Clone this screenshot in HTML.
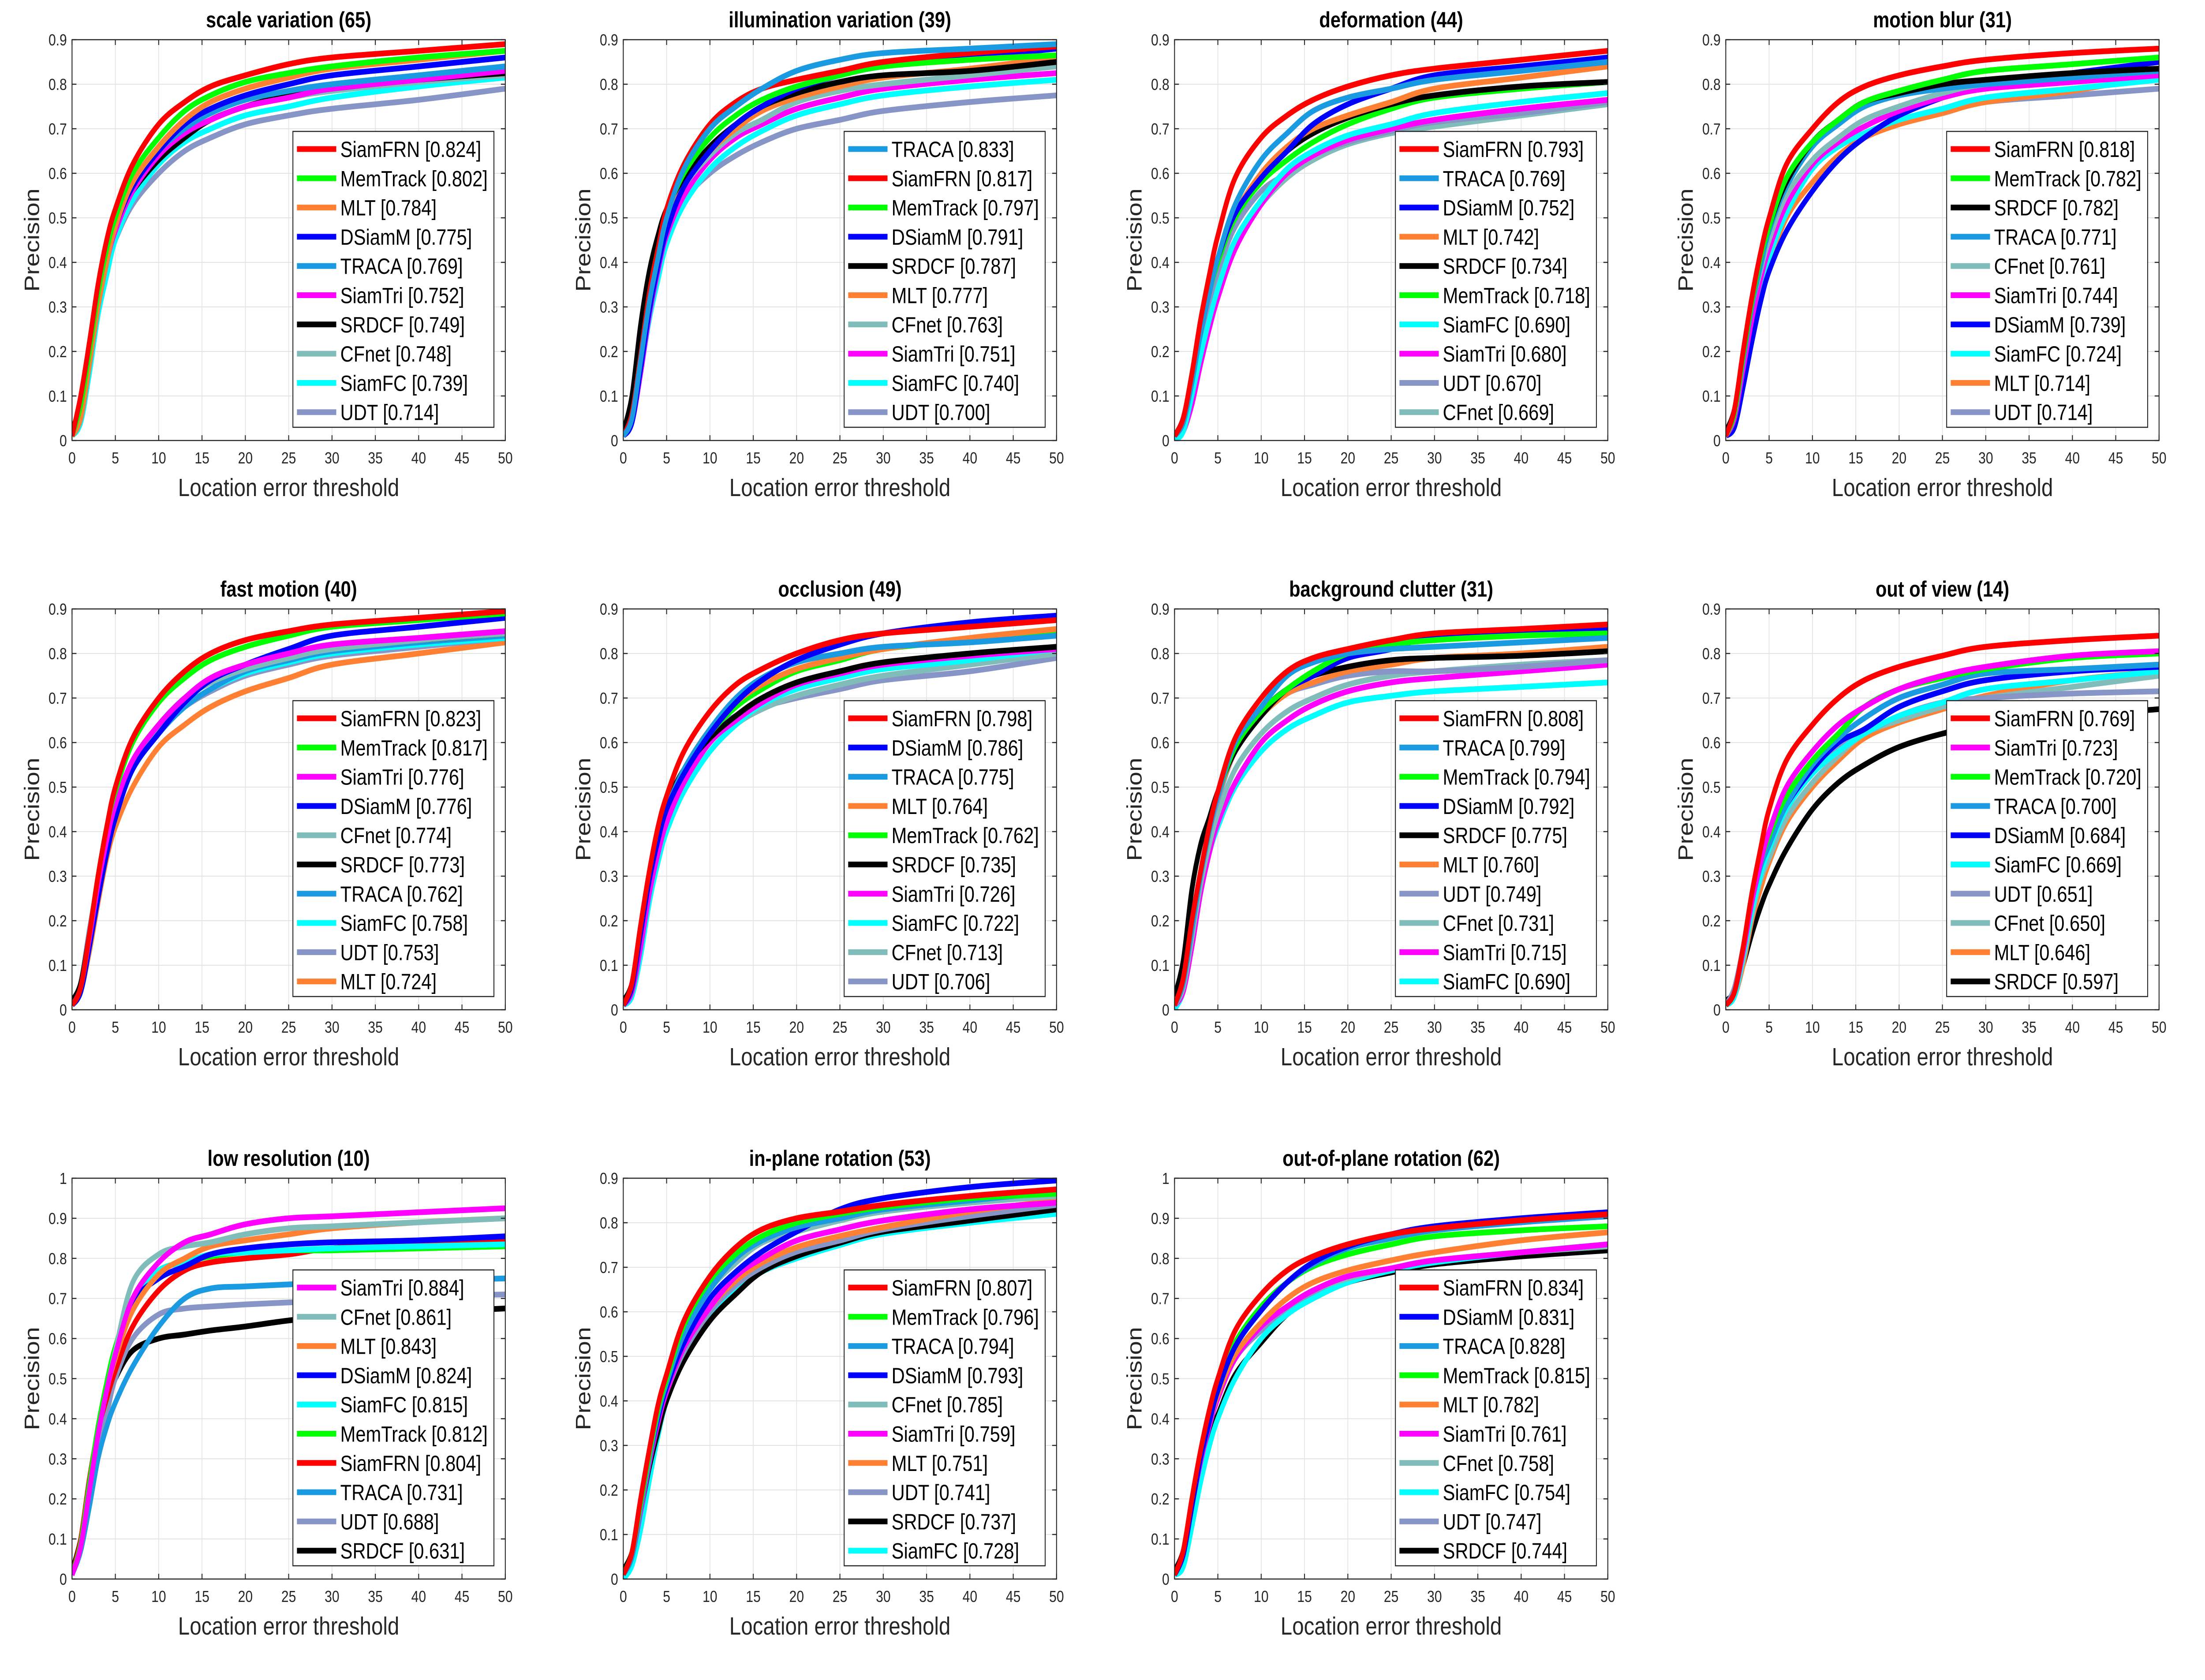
<!DOCTYPE html>
<html><head><meta charset="utf-8"><style>
html,body{margin:0;padding:0;background:#fff;overflow:hidden;width:100%;height:100%;}
svg{display:block;width:100vw;height:100vh;font-family:"Liberation Sans",Arial,sans-serif;}
</style></head><body>
<svg id="fig" viewBox="0 0 6000 3810" preserveAspectRatio="none" xmlns="http://www.w3.org/2000/svg"></svg>
<script>
// shared thresholds (x values of sampled points)
const thresholds = [0,1,2,3,4,5,7,10,13,16,20,25,30,40,50];
const xTicks = [0,5,10,15,20,25,30,35,40,45,50];

const colors = {SiamFRN:"#ff0000",MemTrack:"#00ff00",MLT:"#ff8033",DSiamM:"#0000ff",TRACA:"#1a9ae0",SiamTri:"#ff00ff",SRDCF:"#000000",CFnet:"#80bcba",SiamFC:"#00ffff",UDT:"#8794c6"};

// ---- panel 1: scale variation
const p1Title = "scale variation (65)";
const p1Names = ["SiamFRN","MemTrack","MLT","DSiamM","TRACA","SiamTri","SRDCF","CFnet","SiamFC","UDT"];
const p1Scores = ["0.824","0.802","0.784","0.775","0.769","0.752","0.749","0.748","0.739","0.714"];
const p1Values = [
[.01,.1,.22,.35,.45,.52,.62,.71,.76,.795,.82,.845,.86,.875,.89],
[.01,.08,.2,.33,.43,.5,.6,.68,.74,.775,.805,.825,.84,.86,.875],
[.01,.05,.17,.3,.4,.48,.58,.66,.72,.76,.79,.815,.835,.855,.875],
[.01,.05,.17,.3,.4,.48,.57,.65,.71,.745,.775,.8,.82,.84,.86],
[.01,.05,.17,.3,.4,.48,.57,.65,.7,.735,.765,.785,.8,.82,.84],
[.01,.05,.17,.3,.4,.47,.56,.64,.69,.72,.75,.77,.79,.81,.83],
[.02,.09,.22,.34,.43,.49,.56,.63,.68,.72,.75,.775,.79,.81,.825],
[.01,.05,.17,.3,.4,.47,.56,.64,.69,.72,.75,.77,.785,.805,.82],
[.01,.04,.15,.28,.37,.45,.54,.62,.67,.70,.73,.75,.77,.795,.815],
[.01,.06,.18,.3,.39,.45,.53,.6,.65,.68,.71,.73,.745,.765,.79]];

// ---- panel 2: illumination variation
const p2Title = "illumination variation (39)";
const p2Names = ["TRACA","SiamFRN","MemTrack","DSiamM","SRDCF","MLT","CFnet","SiamTri","SiamFC","UDT"];
const p2Scores = ["0.833","0.817","0.797","0.791","0.787","0.777","0.763","0.751","0.740","0.700"];
const p2Values = [
[.01,.05,.18,.31,.41,.5,.61,.7,.75,.79,.83,.855,.87,.88,.89],
[.01,.06,.19,.33,.43,.52,.62,.71,.76,.79,.81,.83,.85,.87,.885],
[.01,.06,.19,.33,.43,.51,.6,.68,.73,.765,.795,.82,.84,.855,.865],
[.01,.04,.16,.29,.39,.47,.57,.65,.71,.75,.79,.82,.84,.86,.88],
[.02,.1,.26,.38,.46,.52,.59,.66,.71,.75,.78,.805,.82,.83,.85],
[.01,.05,.17,.3,.4,.48,.58,.65,.7,.74,.77,.795,.815,.835,.86],
[.01,.05,.17,.3,.4,.48,.57,.64,.69,.72,.76,.785,.8,.82,.84],
[.01,.04,.15,.28,.38,.46,.55,.63,.68,.71,.745,.77,.79,.81,.825],
[.01,.04,.15,.27,.36,.44,.53,.61,.66,.695,.73,.755,.775,.795,.81],
[.01,.06,.18,.3,.39,.46,.54,.6,.64,.67,.7,.72,.74,.76,.775]];

// ---- panel 3: deformation
const p3Title = "deformation (44)";
const p3Names = ["SiamFRN","TRACA","DSiamM","MLT","SRDCF","MemTrack","SiamFC","SiamTri","UDT","CFnet"];
const p3Scores = ["0.793","0.769","0.752","0.742","0.734","0.718","0.690","0.680","0.670","0.669"];
const p3Values = [
[.01,.05,.15,.27,.37,.46,.59,.68,.73,.765,.795,.82,.835,.855,.875],
[.01,.04,.13,.24,.33,.41,.53,.63,.69,.74,.77,.79,.81,.83,.85],
[.01,.04,.13,.24,.33,.41,.51,.59,.65,.71,.755,.79,.82,.84,.86],
[.01,.04,.13,.24,.33,.41,.51,.6,.66,.7,.73,.76,.79,.815,.84],
[.01,.05,.14,.25,.34,.41,.51,.59,.65,.69,.725,.755,.775,.795,.805],
[.01,.04,.13,.24,.33,.4,.5,.58,.63,.67,.71,.745,.77,.79,.805],
[.0,.02,.1,.19,.27,.34,.45,.54,.61,.65,.685,.71,.735,.76,.78],
[.0,.02,.08,.17,.25,.32,.43,.53,.6,.64,.675,.7,.72,.745,.765],
[.01,.04,.12,.22,.31,.38,.48,.56,.6,.64,.67,.695,.715,.735,.76],
[.01,.03,.11,.2,.28,.35,.45,.53,.59,.63,.665,.69,.705,.73,.755]];

// ---- panel 4: motion blur
const p4Title = "motion blur (31)";
const p4Names = ["SiamFRN","MemTrack","SRDCF","TRACA","CFnet","SiamTri","DSiamM","SiamFC","MLT","UDT"];
const p4Scores = ["0.818","0.782","0.782","0.771","0.761","0.744","0.739","0.724","0.714","0.714"];
const p4Values = [
[.01,.07,.2,.32,.42,.5,.62,.7,.76,.795,.82,.84,.855,.87,.88],
[.01,.06,.19,.31,.41,.48,.59,.67,.72,.76,.785,.81,.83,.845,.86],
[.02,.07,.19,.31,.41,.48,.58,.67,.72,.76,.78,.8,.81,.825,.835],
[.01,.06,.18,.3,.39,.47,.57,.66,.71,.75,.775,.79,.8,.815,.83],
[.01,.06,.18,.3,.38,.45,.55,.63,.68,.72,.75,.78,.8,.815,.83],
[.01,.05,.16,.27,.36,.43,.53,.62,.67,.705,.74,.77,.79,.805,.82],
[.01,.03,.12,.22,.31,.38,.47,.56,.63,.68,.73,.77,.8,.825,.85],
[.01,.04,.14,.25,.34,.41,.51,.61,.66,.69,.72,.745,.77,.79,.81],
[.01,.04,.13,.23,.32,.39,.5,.58,.64,.68,.71,.735,.76,.785,.82],
[.01,.06,.18,.3,.38,.45,.54,.62,.66,.69,.715,.735,.76,.775,.79]];

// ---- panel 5: fast motion
const p5Title = "fast motion (40)";
const p5Names = ["SiamFRN","MemTrack","SiamTri","DSiamM","CFnet","SRDCF","TRACA","SiamFC","UDT","MLT"];
const p5Scores = ["0.823","0.817","0.776","0.776","0.774","0.773","0.762","0.758","0.753","0.724"];
const p5Values = [
[.01,.05,.17,.3,.41,.5,.61,.7,.76,.8,.83,.85,.865,.88,.895],
[.01,.05,.17,.3,.41,.49,.6,.69,.745,.785,.815,.84,.86,.875,.89],
[.01,.05,.16,.28,.38,.46,.56,.64,.7,.745,.775,.8,.82,.835,.85],
[.01,.04,.14,.25,.35,.43,.54,.62,.69,.74,.775,.81,.84,.86,.88],
[.01,.05,.16,.28,.38,.46,.56,.64,.7,.735,.765,.79,.81,.83,.845],
[.02,.06,.17,.29,.38,.46,.56,.64,.7,.735,.77,.795,.815,.83,.845],
[.01,.04,.14,.26,.36,.44,.54,.62,.68,.72,.76,.785,.805,.825,.84],
[.01,.04,.14,.26,.36,.44,.54,.62,.68,.72,.755,.78,.8,.82,.835],
[.01,.06,.18,.29,.38,.45,.55,.63,.68,.715,.75,.775,.795,.815,.835],
[.01,.04,.13,.24,.34,.41,.5,.59,.64,.68,.715,.745,.775,.8,.825]];

// ---- panel 6: occlusion
const p6Title = "occlusion (49)";
const p6Names = ["SiamFRN","DSiamM","TRACA","MLT","MemTrack","SRDCF","SiamTri","SiamFC","CFnet","UDT"];
const p6Scores = ["0.798","0.786","0.775","0.764","0.762","0.735","0.726","0.722","0.713","0.706"];
const p6Values = [
[.01,.06,.19,.31,.41,.48,.58,.67,.73,.765,.8,.83,.845,.86,.875],
[.01,.05,.17,.29,.38,.45,.53,.62,.69,.74,.785,.82,.845,.87,.885],
[.01,.05,.17,.29,.38,.45,.54,.63,.7,.745,.78,.8,.815,.825,.84],
[.01,.05,.17,.29,.38,.45,.54,.63,.69,.73,.765,.79,.81,.835,.855],
[.01,.05,.17,.29,.38,.45,.53,.62,.68,.72,.76,.785,.81,.83,.85],
[.02,.06,.18,.3,.39,.46,.54,.61,.66,.7,.735,.76,.78,.8,.815],
[.01,.04,.14,.26,.35,.42,.51,.6,.65,.69,.73,.755,.775,.795,.81],
[.01,.03,.12,.24,.33,.4,.49,.58,.64,.685,.72,.745,.765,.785,.81],
[.01,.04,.13,.25,.34,.41,.5,.58,.64,.675,.705,.73,.75,.775,.8],
[.01,.05,.16,.28,.37,.44,.53,.62,.66,.68,.7,.72,.74,.76,.79]];

// ---- panel 7: background clutter
const p7Title = "background clutter (31)";
const p7Names = ["SiamFRN","TRACA","MemTrack","DSiamM","SRDCF","MLT","UDT","CFnet","SiamTri","SiamFC"];
const p7Scores = ["0.808","0.799","0.794","0.792","0.775","0.760","0.749","0.731","0.715","0.690"];
const p7Values = [
[.01,.07,.2,.31,.41,.49,.61,.7,.76,.79,.81,.83,.845,.855,.865],
[.01,.06,.18,.3,.4,.48,.6,.68,.75,.78,.8,.81,.815,.825,.835],
[.01,.06,.18,.3,.4,.48,.59,.67,.72,.76,.8,.82,.83,.84,.845],
[.01,.06,.18,.3,.4,.48,.59,.67,.72,.75,.79,.81,.84,.85,.855],
[.03,.11,.27,.37,.43,.49,.58,.66,.72,.75,.77,.785,.79,.795,.805],
[.01,.06,.18,.3,.4,.48,.58,.66,.71,.735,.76,.775,.79,.8,.815],
[.01,.07,.2,.31,.4,.47,.58,.66,.71,.73,.75,.76,.76,.77,.785],
[.01,.05,.16,.28,.37,.44,.54,.62,.67,.7,.73,.75,.76,.775,.785],
[.01,.04,.14,.26,.35,.42,.51,.6,.65,.685,.715,.735,.745,.76,.775],
[.0,.04,.14,.26,.35,.41,.5,.58,.63,.66,.69,.705,.715,.725,.735]];

// ---- panel 8: out of view
const p8Title = "out of view (14)";
const p8Names = ["SiamFRN","SiamTri","MemTrack","TRACA","DSiamM","SiamFC","UDT","CFnet","MLT","SRDCF"];
const p8Scores = ["0.769","0.723","0.720","0.700","0.684","0.669","0.651","0.650","0.646","0.597"];
const p8Values = [
[.01,.04,.14,.26,.36,.45,.56,.64,.7,.74,.77,.795,.815,.83,.84],
[.01,.04,.13,.24,.33,.4,.5,.58,.64,.68,.72,.75,.77,.795,.805],
[.01,.04,.13,.24,.33,.39,.48,.56,.62,.68,.72,.745,.765,.79,.8],
[.01,.04,.13,.24,.32,.37,.46,.55,.61,.655,.7,.73,.755,.765,.775],
[.01,.04,.13,.24,.33,.38,.46,.54,.6,.63,.68,.715,.74,.76,.77],
[.01,.03,.12,.22,.3,.36,.45,.53,.58,.62,.66,.69,.72,.74,.76],
[.01,.05,.14,.24,.32,.37,.46,.54,.59,.62,.66,.69,.7,.71,.715],
[.01,.03,.11,.21,.29,.34,.43,.51,.57,.62,.65,.68,.7,.725,.75],
[.01,.03,.1,.2,.27,.33,.42,.5,.56,.61,.645,.675,.705,.74,.76],
[.02,.04,.1,.17,.23,.28,.36,.45,.51,.55,.59,.62,.64,.66,.675]];

// ---- panel 9: low resolution
const p9Title = "low resolution (10)";
const p9Names = ["SiamTri","CFnet","MLT","DSiamM","SiamFC","MemTrack","SiamFRN","TRACA","UDT","SRDCF"];
const p9Scores = ["0.884","0.861","0.843","0.824","0.815","0.812","0.804","0.731","0.688","0.631"];
const p9Values = [
[.01,.08,.22,.36,.47,.56,.7,.79,.84,.86,.885,.9,.905,.915,.925],
[.01,.08,.22,.36,.47,.57,.74,.81,.83,.84,.86,.875,.88,.89,.9],
[.01,.08,.22,.36,.47,.55,.67,.76,.8,.83,.845,.86,.875,.89,.9],
[.01,.08,.22,.36,.47,.56,.69,.75,.78,.81,.825,.835,.84,.845,.855],
[.01,.08,.22,.36,.47,.56,.7,.77,.79,.81,.815,.82,.825,.83,.835],
[.01,.09,.24,.38,.49,.58,.7,.77,.79,.805,.815,.82,.82,.825,.83],
[.01,.1,.25,.37,.45,.52,.63,.72,.77,.79,.8,.81,.825,.835,.845],
[.01,.07,.18,.3,.38,.44,.53,.63,.7,.725,.73,.735,.74,.745,.75],
[.01,.08,.2,.32,.41,.5,.6,.66,.675,.68,.685,.69,.695,.705,.71],
[.02,.1,.23,.35,.44,.5,.57,.6,.61,.62,.63,.645,.655,.665,.675]];

// ---- panel 10: in-plane rotation
const p10Title = "in-plane rotation (53)";
const p10Names = ["SiamFRN","MemTrack","TRACA","DSiamM","CFnet","SiamTri","MLT","UDT","SRDCF","SiamFC"];
const p10Scores = ["0.807","0.796","0.794","0.793","0.785","0.759","0.751","0.741","0.737","0.728"];
const p10Values = [
[.01,.06,.18,.29,.39,.46,.58,.68,.745,.785,.81,.825,.84,.86,.875],
[.01,.06,.17,.28,.38,.45,.57,.67,.73,.77,.8,.82,.835,.855,.865],
[.01,.05,.16,.27,.37,.44,.55,.65,.72,.76,.79,.81,.83,.85,.87],
[.01,.05,.16,.27,.36,.43,.53,.63,.69,.735,.78,.83,.855,.88,.895],
[.01,.05,.16,.27,.37,.44,.55,.65,.71,.755,.78,.805,.825,.845,.86],
[.01,.05,.15,.26,.35,.42,.52,.61,.68,.72,.76,.785,.805,.83,.845],
[.01,.05,.15,.26,.35,.42,.52,.61,.67,.71,.745,.77,.79,.825,.85],
[.01,.05,.15,.26,.35,.42,.51,.6,.66,.7,.735,.76,.785,.815,.84],
[.02,.06,.15,.25,.33,.4,.49,.58,.64,.69,.725,.755,.78,.805,.83],
[.0,.03,.11,.22,.32,.4,.5,.59,.65,.69,.72,.75,.775,.8,.82]];

// ---- panel 11: out-of-plane rotation
const p11Title = "out-of-plane rotation (62)";
const p11Names = ["SiamFRN","DSiamM","TRACA","MemTrack","MLT","SiamTri","CFnet","SiamFC","UDT","SRDCF"];
const p11Scores = ["0.834","0.831","0.828","0.815","0.782","0.761","0.758","0.754","0.747","0.744"];
const p11Values = [
[.01,.07,.2,.32,.42,.5,.62,.71,.77,.805,.835,.86,.875,.895,.91],
[.01,.06,.18,.3,.39,.47,.58,.67,.74,.79,.83,.86,.88,.9,.915],
[.01,.06,.18,.3,.39,.47,.58,.67,.74,.785,.825,.85,.87,.89,.905],
[.01,.06,.18,.3,.4,.48,.59,.68,.74,.78,.81,.835,.855,.87,.88],
[.01,.06,.18,.3,.39,.46,.56,.64,.7,.74,.77,.795,.815,.845,.865],
[.01,.06,.18,.29,.38,.45,.55,.63,.68,.72,.755,.775,.795,.815,.835],
[.01,.06,.18,.29,.38,.45,.55,.63,.68,.72,.75,.775,.795,.815,.83],
[.01,.03,.13,.24,.33,.4,.5,.6,.66,.7,.74,.77,.79,.815,.835],
[.01,.06,.18,.29,.38,.45,.55,.62,.67,.71,.745,.77,.79,.815,.83],
[.02,.07,.18,.28,.36,.41,.51,.59,.66,.7,.74,.765,.785,.805,.82]];

const panels = [
 {title:p1Title,names:p1Names,scores:p1Scores,values:p1Values,ymax:0.9,col:0,row:0},
 {title:p2Title,names:p2Names,scores:p2Scores,values:p2Values,ymax:0.9,col:1,row:0},
 {title:p3Title,names:p3Names,scores:p3Scores,values:p3Values,ymax:0.9,col:2,row:0},
 {title:p4Title,names:p4Names,scores:p4Scores,values:p4Values,ymax:0.9,col:3,row:0},
 {title:p5Title,names:p5Names,scores:p5Scores,values:p5Values,ymax:0.9,col:0,row:1},
 {title:p6Title,names:p6Names,scores:p6Scores,values:p6Values,ymax:0.9,col:1,row:1},
 {title:p7Title,names:p7Names,scores:p7Scores,values:p7Values,ymax:0.9,col:2,row:1},
 {title:p8Title,names:p8Names,scores:p8Scores,values:p8Values,ymax:0.9,col:3,row:1},
 {title:p9Title,names:p9Names,scores:p9Scores,values:p9Values,ymax:1.0,col:0,row:2},
 {title:p10Title,names:p10Names,scores:p10Scores,values:p10Values,ymax:0.9,col:1,row:2},
 {title:p11Title,names:p11Names,scores:p11Scores,values:p11Values,ymax:1.0,col:2,row:2}
];

const NS = "http://www.w3.org/2000/svg";
const svg = document.getElementById("fig");
function mk(tag, attrs, parent){
  const e = document.createElementNS(NS, tag);
  for (const k in attrs) e.setAttribute(k, attrs[k]);
  (parent||svg).appendChild(e);
  return e;
}
function smoothPath(pts){
  let d = "M" + pts[0][0].toFixed(1) + "," + pts[0][1].toFixed(1);
  for (let i=0;i<pts.length-1;i++){
    const p0 = pts[Math.max(0,i-1)], p1 = pts[i], p2 = pts[i+1], p3 = pts[Math.min(pts.length-1,i+2)];
    const c1x = p1[0]+(p2[0]-p0[0])/6, c1y = p1[1]+(p2[1]-p0[1])/6;
    const c2x = p2[0]-(p3[0]-p1[0])/6, c2y = p2[1]-(p3[1]-p1[1])/6;
    d += " C"+c1x.toFixed(1)+","+c1y.toFixed(1)+" "+c2x.toFixed(1)+","+c2y.toFixed(1)+" "+p2[0].toFixed(1)+","+p2[1].toFixed(1);
  }
  return d;
}

const W = 1179, H = 909;
panels.forEach((p, pi) => {
  const L = 196 + p.col*1500, T = 90 + p.row*1291, B = T + H, R = L + W;
  const xS = v => L + v/50*W;
  const yS = v => B - v/p.ymax*H;
  const g = mk("g", {});
  
  

  const yTicks = [];
  for (let k=0; k<=Math.round(p.ymax*10); k++) yTicks.push(k/10);

  xTicks.forEach(t => { const l = mk("line",{x1:xS(t),x2:xS(t),y1:T,y2:B,stroke:"#e3e3e3","stroke-width":2},g);
      });
  yTicks.forEach(t => { const l = mk("line",{x1:L,x2:R,y1:yS(t),y2:yS(t),stroke:"#e3e3e3","stroke-width":2},g);
      });

  const cid = "clip"+pi;
  const cp = mk("clipPath",{id:cid},g);
  mk("rect",{x:L,y:T-8,width:W,height:H+8},cp);

  for (let s = p.names.length-1; s >= 0; s--){
    const pts = thresholds.map((x,i) => [xS(x), yS(p.values[s][i])]);
    const path = mk("path",{d:smoothPath(pts),fill:"none",stroke:colors[p.names[s]],"stroke-width":13,"stroke-linejoin":"round","clip-path":"url(#"+cid+")"},g);
    
    
  }

  const box = mk("rect",{x:L,y:T,width:W,height:H,fill:"none",stroke:"#262626","stroke-width":2.5},g);
   
  xTicks.forEach(t => {
    mk("line",{x1:xS(t),x2:xS(t),y1:B,y2:B-12,stroke:"#262626","stroke-width":2.5},g);
    mk("line",{x1:xS(t),x2:xS(t),y1:T,y2:T+12,stroke:"#262626","stroke-width":2.5},g);
    const tx = mk("text",{x:xS(t),y:B+52,"font-size":36,"text-anchor":"middle",fill:"#262626"},g);
    tx.textContent = String(t);
     
  });
  yTicks.forEach(t => {
    mk("line",{x1:L,x2:L+12,y1:yS(t),y2:yS(t),stroke:"#262626","stroke-width":2.5},g);
    mk("line",{x1:R,x2:R-12,y1:yS(t),y2:yS(t),stroke:"#262626","stroke-width":2.5},g);
    const ty = mk("text",{x:L-14,y:yS(t)+13,"font-size":36,"text-anchor":"end",fill:"#262626"},g);
    ty.textContent = (t===0?"0":(Math.abs(t-1)<1e-9?"1":t.toFixed(1)));
     
  });

  const tt = mk("text",{x:L+W/2,y:T-28,"font-size":50,"font-weight":"bold","text-anchor":"middle",fill:"#000"},g);
  tt.textContent = p.title;
   
  const xl = mk("text",{x:L+W/2,y:B+126,"font-size":57,"text-anchor":"middle",fill:"#262626"},g);
  xl.textContent = "Location error threshold";
   
  const yl = mk("text",{x:0,y:0,"font-size":57,"text-anchor":"middle",fill:"#262626",transform:"translate("+(L-90)+","+(T+H/2)+") rotate(-90)"},g);
  yl.textContent = "Precision";
   

  const lg = mk("g",{},g);
   
  mk("rect",{x:L+601,y:T+208,width:547,height:671,fill:"#fff",stroke:"#262626","stroke-width":2.5},lg);
  p.names.forEach((n, i) => {
    const cy = T + 248 + i*66.3;
    const e = mk("g",{},lg);
    
    
    mk("line",{x1:L+612,x2:L+719,y1:cy,y2:cy,stroke:colors[n],"stroke-width":13},e);
    const lt = mk("text",{x:L+730,y:cy+18,"font-size":50,fill:"#000"},e);
    lt.textContent = n + " [" + p.scores[i] + "]";
  });
});
</script>
</body></html>
